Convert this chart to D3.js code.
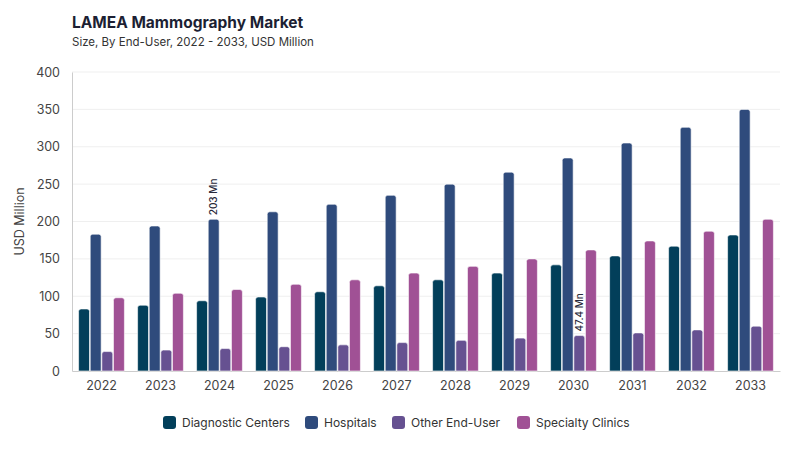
<!DOCTYPE html>
<html>
<head>
<meta charset="utf-8">
<script src="https://cdn.jsdelivr.net/npm/d3@7"></script>
<style>
  body { margin: 0; background: #fff; font-family: Inter, "Noto Sans", sans-serif; }
</style>
</head>
<body>
<div id="chart"></div>
<script>
var years = ["2022","2023","2024","2025","2026","2027","2028","2029","2030","2031","2032","2033"]
var series = ["Diagnostic Centers","Hospitals","Other End-User","Specialty Clinics"]
var diagnostic = [83, 88, 94, 99, 106, 114, 122, 131, 142, 154, 167, 182]
var hospitals  = [183, 194, 203, 213, 223, 235, 250, 266, 285, 305, 326, 350]
var other      = [26, 28, 30, 32.5, 35, 38, 41, 44, 47.4, 51, 55, 60]
var specialty  = [98, 104, 109, 116, 122, 131, 140, 150, 162, 174, 187, 203]
var yTicks = [0, 50, 100, 150, 200, 250, 300, 350, 400]
// labelled bars: [series index, year index, text]
var callouts = [[1, 2, "203 Mn"], [2, 8, "47.4 Mn"]]

var colors = ["#023f5a", "#2f4b7c", "#665191", "#a05195"]
var values = [diagnostic, hospitals, other, specialty]

const W = 800, H = 450
const margin = {top: 72, right: 20, bottom: 79, left: 72}

var svg = d3.select("#chart").append("svg")
    .attr("width", W).attr("height", H)

svg.append("text")
    .attr("x", 72).attr("y", 28)
    .attr("font-size", 15.5).attr("font-weight", 700)
    .attr("fill", "#1c1f33")
    .text("LAMEA Mammography Market")
svg.append("text")
    .attr("x", 72).attr("y", 46)
    .attr("font-size", 11.5).attr("fill", "#333")
    .text("Size, By End-User, 2022 - 2033, USD Million")

var x0 = d3.scaleBand().domain(years)
    .range([margin.left, W - margin.right]).paddingInner(0.2).paddingOuter(0.1)
var x1 = d3.scaleBand().domain(series)
    .range([0, x0.bandwidth()]).padding(0.06)
var y = d3.scaleLinear().domain([0, 400]).range([H - margin.bottom, margin.top])

// grid
svg.append("g").selectAll("line").data(yTicks.slice(1)).enter().append("line")
    .attr("x1", margin.left).attr("x2", W - margin.right)
    .attr("y1", d => y(d)).attr("y2", d => y(d))
    .attr("stroke", "#efefef")

var yAxis = svg.append("g")
    .attr("transform", "translate(" + margin.left + ",0)")
    .call(d3.axisLeft(y).tickValues(yTicks).tickSize(0).tickPadding(12))
yAxis.select(".domain").attr("stroke", "#ccc")
yAxis.selectAll("text").attr("font-size", 12.5).attr("fill", "#444").attr("font-family", "Inter, sans-serif")

var xAxis = svg.append("g")
    .attr("transform", "translate(0," + y(0) + ")")
    .call(d3.axisBottom(x0).tickSize(0).tickPadding(10))
xAxis.select(".domain").attr("stroke", "#ccc")
xAxis.selectAll("text").attr("font-size", 12.5).attr("fill", "#444").attr("font-family", "Inter, sans-serif")

svg.append("text")
    .attr("transform", "translate(24," + ((margin.top + y(0)) / 2) + ") rotate(-90)")
    .attr("text-anchor", "middle")
    .attr("font-size", 12.5).attr("fill", "#444")
    .text("USD Million")

// bars with rounded tops
function barPath(x, yTop, w, yBot) {
    var r = Math.min(2.5, w / 2, (yBot - yTop))
    return "M" + x + "," + yBot +
        "V" + (yTop + r) +
        "Q" + x + "," + yTop + " " + (x + r) + "," + yTop +
        "H" + (x + w - r) +
        "Q" + (x + w) + "," + yTop + " " + (x + w) + "," + (yTop + r) +
        "V" + yBot + "Z"
}

var groups = svg.append("g").selectAll("g").data(years).enter().append("g")
    .attr("transform", d => "translate(" + x0(d) + ",0)")

groups.selectAll("path").data((d, i) => series.map((s, j) => ({s: s, j: j, v: values[j][i]})))
    .enter().append("path")
    .attr("d", d => barPath(x1(d.s), y(d.v), x1.bandwidth(), y(0)))
    .attr("fill", d => colors[d.j])
    .attr("stroke", "#fff").attr("stroke-width", 0.6)

callouts.forEach(function(c) {
    var cx = x0(years[c[1]]) + x1(series[c[0]]) + x1.bandwidth() / 2
    var cy = y(values[c[0]][c[1]]) - 4
    svg.append("text")
        .attr("transform", "translate(" + (cx + 3.5) + "," + cy + ") rotate(-90)")
        .attr("font-size", 10).attr("font-weight", 500).attr("fill", "#2a2a3a")
        .text(c[2])
})

// legend
var legendX = [163, 305, 392, 517]
var legend = svg.append("g").selectAll("g").data(series).enter().append("g")
    .attr("transform", (d, i) => "translate(" + legendX[i] + ",416)")
legend.append("rect")
    .attr("width", 13).attr("height", 13).attr("rx", 3)
    .attr("fill", (d, i) => colors[i])
legend.append("text")
    .attr("x", 19).attr("y", 11)
    .attr("font-size", 12).attr("fill", "#333")
    .text(d => d)
</script>
</body>
</html>
